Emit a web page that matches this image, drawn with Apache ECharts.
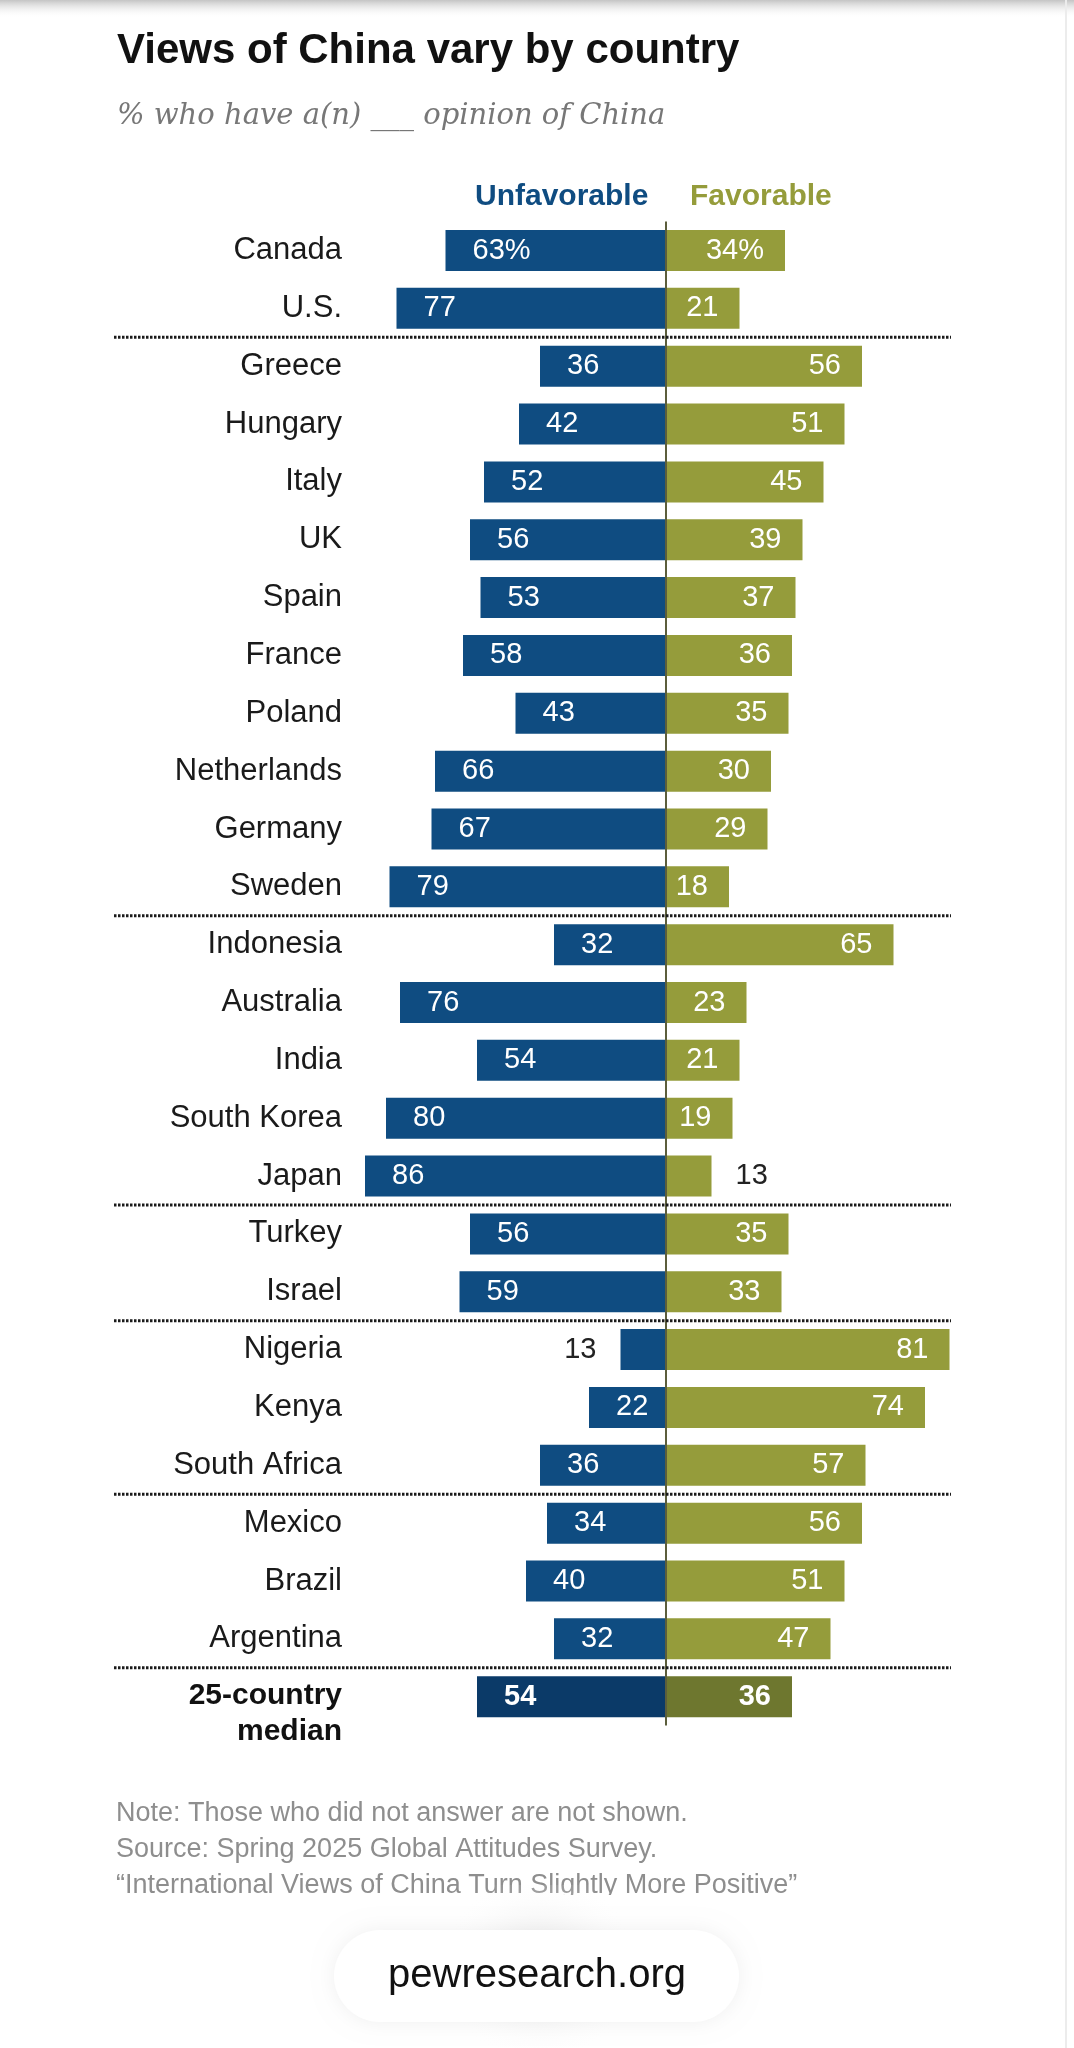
<!DOCTYPE html>
<html>
<head>
<meta charset="utf-8">
<script src="https://cdn.jsdelivr.net/npm/echarts@6/dist/echarts.min.js"></script>
<style>
html,body{margin:0;padding:0;background:#fff;}
#main{width:1074px;height:2048px;}
</style>
</head>
<body>
<div id="main"></div>
<script>
var categories = ['Canada','U.S.','Greece','Hungary','Italy','UK','Spain','France','Poland','Netherlands','Germany','Sweden','Indonesia','Australia','India','South Korea','Japan','Turkey','Israel','Nigeria','Kenya','South Africa','Mexico','Brazil','Argentina','25-country median'];
var unfavorable = [63,77,36,42,52,56,53,58,43,66,67,79,32,76,54,80,86,56,59,13,22,36,34,40,32,54];
var favorable = [34,21,56,51,45,39,37,36,35,30,29,18,65,23,21,19,13,35,33,81,74,57,56,51,47,36];
var groupEnds = ['U.S.','Sweden','Japan','Israel','South Africa','Argentina'];
var medianName = '25-country median';

var FONT = 'Liberation Sans, Arial, sans-serif';
var BLUE = '#0f4c81', OLIVE = '#959c3b';
var BLUE_D = '#0b3a68', OLIVE_D = '#6e772f';

function barItems(vals, side) {
  return vals.map(function (v, i) {
    var isMedian = categories[i] === medianName;
    var small = v < 15;
    return {
      value: side === 'left' ? -v : v,
      itemStyle: { color: isMedian ? (side === 'left' ? BLUE_D : OLIVE_D) : (side === 'left' ? BLUE : OLIVE) },
      label: {
        position: small ? side : (side === 'left' ? 'insideLeft' : 'insideRight'),
        distance: small ? 24 : (side === 'left' ? 27 : 21),
        color: small ? '#222' : '#fff',
        fontWeight: isMedian ? 'bold' : 'normal'
      }
    };
  });
}

var chart = echarts.init(document.getElementById('main'), null, {renderer: 'canvas'});

var option = {
  backgroundColor: '#fff',
  animation: false,
  grid: { left: 344, width: 672, top: 221.6, height: 1504 },
  xAxis: { type: 'value', min: -92, max: 100, show: false },
  yAxis: {
    type: 'category', inverse: true, data: categories,
    axisLine: { show: false }, axisTick: { show: false },
    axisLabel: {
      margin: 2, fontSize: 31, color: '#1a1a1a', fontFamily: FONT,
      formatter: function (v) {
        if (v === medianName) return '{e| }\n{m|25-country}\n{m|median}';
        return v;
      },
      rich: {
        e: { lineHeight: 34, fontSize: 10 },
        m: { fontWeight: 'bold', fontSize: 30, lineHeight: 36, color: '#111', fontFamily: FONT, align: 'right' }
      }
    }
  },
  series: [
    {
      type: 'bar', name: 'Unfavorable', stack: 's', barWidth: 41,
      data: barItems(unfavorable, 'left'),
      label: {
        show: true, fontSize: 29, fontFamily: FONT,
        formatter: function (p) { return Math.abs(p.value) + (p.dataIndex === 0 ? '%' : ''); }
      }
    },
    {
      type: 'bar', name: 'Favorable', stack: 's', barWidth: 41,
      data: barItems(favorable, 'right'),
      label: {
        show: true, fontSize: 29, fontFamily: FONT,
        formatter: function (p) { return Math.abs(p.value) + (p.dataIndex === 0 ? '%' : ''); }
      },
      markLine: {
        silent: true, symbol: 'none', animation: false,
        label: { show: false },
        lineStyle: { color: '#5c5e3c', width: 2, type: 'solid' },
        data: [{ xAxis: 0 }]
      }
    }
  ]
};
chart.setOption(option);

var g = [];
g.push({ type: 'rect', shape: { x: 0, y: 0, width: 1074, height: 18 }, style: {
  fill: new echarts.graphic.LinearGradient(0, 0, 0, 1, [{offset: 0, color: '#c4c4c4'}, {offset: 1, color: 'rgba(255,255,255,0)'}]) }, z: 10 });
g.push({ type: 'line', shape: { x1: 1066, y1: 0, x2: 1066, y2: 2048 }, style: { stroke: '#ececec', lineWidth: 2 }, z: 10 });
g.push({ type: 'text', x: 117, y: 51, style: { text: 'Views of China vary by country', font: 'bold 42px ' + FONT, fill: '#111', verticalAlign: 'middle' } });
g.push({ type: 'text', x: 117, y: 116, style: { text: '% who have a(n) ___ opinion of China', font: 'italic 29px DejaVu Serif, Georgia, serif', fill: '#777', verticalAlign: 'middle' } });
g.push({ type: 'text', x: 475, y: 197, style: { text: 'Unfavorable', font: 'bold 30px ' + FONT, fill: BLUE, verticalAlign: 'middle' } });
g.push({ type: 'text', x: 690, y: 197, style: { text: 'Favorable', font: 'bold 30px ' + FONT, fill: OLIVE, verticalAlign: 'middle' } });

groupEnds.forEach(function (name) {
  var i = categories.indexOf(name);
  var y1 = chart.convertToPixel({ yAxisIndex: 0 }, categories[i]);
  var y2 = chart.convertToPixel({ yAxisIndex: 0 }, categories[i + 1]);
  var y = (y1 + y2) / 2;
  g.push({ type: 'line', shape: { x1: 114, y1: y, x2: 951, y2: y }, style: { stroke: '#1a1a1a', lineWidth: 3, lineDash: [2.5, 1.5] }, z: 5 });
});

var notes = ['Note: Those who did not answer are not shown.', 'Source: Spring 2025 Global Attitudes Survey.', '\u201CInternational Views of China Turn Slightly More Positive\u201D'];
notes.forEach(function (t, k) {
  g.push({ type: 'text', x: 116, y: 1814 + k * 36, style: { text: t, font: '27px ' + FONT, fill: '#8e8e8e', verticalAlign: 'middle' } });
});
g.push({ type: 'rect', shape: { x: 0, y: 1895, width: 1064, height: 153 }, style: { fill: '#fff' }, z: 20 });
g.push({ type: 'rect', shape: { x: 250, y: 1885, width: 580, height: 163 }, style: {
  fill: new echarts.graphic.RadialGradient(0.5, 0.5, 0.6, [{offset: 0, color: 'rgba(225,225,225,0.7)'}, {offset: 1, color: 'rgba(255,255,255,0)'}]) }, z: 21 });
g.push({ type: 'rect', shape: { x: 334, y: 1930, width: 405, height: 92, r: 46 }, style: { fill: '#fff', shadowBlur: 20, shadowColor: 'rgba(0,0,0,0.06)' }, z: 22 });
g.push({ type: 'text', x: 537, y: 1976, style: { text: 'pewresearch.org', font: '40px ' + FONT, fill: '#111', align: 'center', verticalAlign: 'middle' }, z: 23 });

chart.setOption({ graphic: g });
</script>
</body>
</html>
